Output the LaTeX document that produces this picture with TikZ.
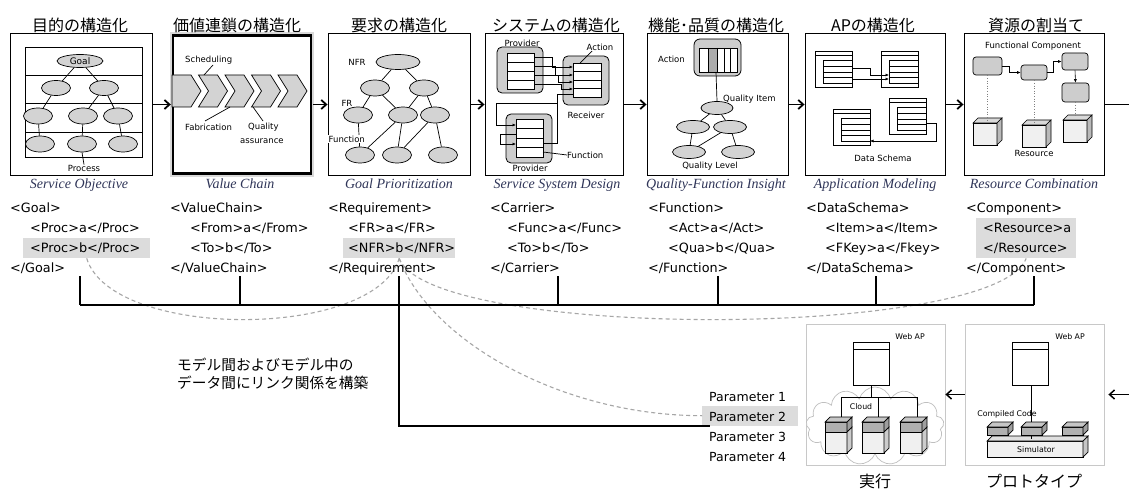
\documentclass[tikz,border=0pt]{standalone}
\usepackage{fontspec}
\usetikzlibrary{arrows.meta,shapes.geometric,shapes.symbols}
\newfontfamily\jpfont{Noto Sans CJK JP}
\newfontfamily\dvfont{DejaVu Sans}
\newfontfamily\tmfont{Liberation Serif}
\definecolor{subcol}{HTML}{2F3558}
\definecolor{ovfill}{HTML}{D3D3D3}
\definecolor{hlfill}{HTML}{DCDCDC}
\definecolor{grpfill}{HTML}{CDCDCD}
\definecolor{linkcol}{HTML}{A6A6A6}
\definecolor{framecol}{HTML}{C8C8C8}

\tikzset{
  panel/.style={draw, line width=0.9pt, minimum width=142pt, minimum height=142pt, inner sep=0pt},
  subpanel/.style={draw=framecol, line width=0.8pt, minimum width=139pt, minimum height=141pt, inner sep=0pt},
  ttl/.style={font=\jpfont\fontsize{16}{18}\selectfont, inner sep=0pt},
  jptext/.style={font=\jpfont\fontsize{14.7}{18}\selectfont, inner sep=0pt, anchor=west},
  subttl/.style={font=\tmfont\itshape\fontsize{14}{16}\selectfont, text=subcol, inner sep=0pt, anchor=base},
  code/.style={font=\dvfont\fontsize{12.8}{15}\selectfont, inner sep=0pt, anchor=base west},
  param/.style={font=\dvfont\fontsize{12.5}{15}\selectfont, inner sep=0pt, anchor=base west},
  lbl/.style={font=\dvfont\fontsize{8.5}{10}\selectfont, inner sep=0pt},
  tinylbl/.style={font=\dvfont\fontsize{7.8}{9}\selectfont, inner sep=0pt},
  ov/.style={ellipse, draw, line width=0.7pt, fill=ovfill, minimum width=29pt, minimum height=15pt, inner sep=0pt},
  edge/.style={line width=0.7pt},
  grid/.style={line width=0.7pt},
  grp/.style={draw, line width=0.8pt, fill=grpfill, rounded corners=5pt},
  tbl/.style={draw, line width=0.7pt, fill=white},
  sarr/.style={line width=0.6pt, -{Latex[length=3.5pt,width=3pt]}},
  flow/.style={line width=1.8pt, -{Straight Barb[length=5pt,width=9pt]}},
  back/.style={line width=1.5pt, -{Straight Barb[length=5pt,width=9pt]}},
  link/.style={draw=linkcol, dash pattern=on 4pt off 3pt, line width=1.1pt},
  bus/.style={line width=1.1pt},
  hl/.style={fill=hlfill, draw=none, inner sep=0pt, anchor=north west},
  dots/.style={draw=gray, dotted, line width=0.6pt},
  fc/.style={draw, line width=0.7pt, fill=grpfill, rounded corners=3pt, inner sep=0pt},
  rescube/.pic={
    \draw[line width=0.6pt, fill=gray!12] (0,0) rectangle (24,22);
    \draw[line width=0.6pt, fill=gray!30] (0,0) -- (5,-5) -- (29,-5) -- (24,0) -- cycle;
    \draw[line width=0.6pt, fill=gray!55] (24,0) -- (29,-5) -- (29,17) -- (24,22) -- cycle;
  },
  srvbox/.pic={
    \draw[line width=0.7pt, fill=gray!12] (0,0) rectangle (22,31);
    \draw[line width=0.7pt, fill=gray!62] (0,0) rectangle (22,10);
    \draw[line width=0.7pt, fill=gray!45] (0,0) -- (5,-5) -- (27,-5) -- (22,0) -- cycle;
    \draw[line width=0.7pt, fill=gray!75] (22,0) -- (27,-5) -- (27,5) -- (22,10) -- cycle;
    \draw[line width=0.7pt, fill=gray!40] (22,10) -- (27,5) -- (27,26) -- (22,31) -- cycle;
  },
  codeblk/.pic={
    \draw[line width=0.7pt, fill=gray!62] (0,0) rectangle (21,8);
    \draw[line width=0.7pt, fill=gray!45] (0,0) -- (5,-5) -- (26,-5) -- (21,0) -- cycle;
    \draw[line width=0.7pt, fill=gray!75] (21,0) -- (26,-5) -- (26,3) -- (21,8) -- cycle;
  },
  webwin/.pic={
    \draw[line width=0.8pt, fill=white] (0,0) rectangle (36,43);
    \draw[line width=0.8pt] (0,7) -- (36,7);
  },
  schematbl/.pic={
    \draw[tbl] (0,0) rectangle (37,36);
    \draw[grid] (0,4) -- (37,4);
    \draw[grid] (8,9) rectangle (37,32);
    \foreach \yy in {15,21,26.5} \draw[grid] (8,\yy) -- (37,\yy);
  },
}

\begin{document}
\begin{tikzpicture}[x=1pt,y=-1pt]
\useasboundingbox (0,0) rectangle (1129,494);
\fill[white] (0,0) rectangle (1129,494);

% ---------- frames of the seven models ----------
\node[panel] (p1) at (81,104.5) {};
\node[panel, minimum width=139pt, minimum height=139pt, line width=3.4pt] (p2) at (242,104.5) {};
\draw[line width=1.9pt, gray!30] (p2.south west) rectangle (p2.north east);
\node[panel] (p3) at (399,104.5) {};
\node[panel, minimum width=138pt] (p4) at (554,104.5) {};
\node[panel, minimum width=141pt] (p5) at (717.5,104.5) {};
\node[panel, minimum width=140pt] (p6) at (875,104.5) {};
\node[panel, minimum width=140pt] (p7) at (1034,104.5) {};

% ---------- headings ----------
\node[ttl] (h1) at (80,25) {目的の構造化};
\node[ttl] (h2) at (237,25) {価値連鎖の構造化};
\node[ttl] (h3) at (399,25) {要求の構造化};
\node[ttl] (h4) at (556,25) {システムの構造化};
\node[ttl] (h5) at (716,25) {機能･品質の構造化};
\node[ttl] (h6) at (873,25) {APの構造化};
\node[ttl] (h7) at (1036,25) {資源の割当て};

\node[subttl] (s1) at (79,189) {Service Objective};
\node[subttl] (s2) at (240,189) {Value Chain};
\node[subttl] (s3) at (399,189) {Goal Prioritization};
\node[subttl] (s4) at (557,189) {Service System Design};
\node[subttl] (s5) at (716,189) {Quality-Function Insight};
\node[subttl] (s6) at (875,189) {Application Modeling};
\node[subttl] (s7) at (1034,189) {Resource Combination};

% ---------- flow between the models ----------
\coordinate (rout) at (1129,104.5);
\draw[flow] (p1.east) -- (p2.west);
\draw[flow] (p2.east) -- (p3.west);
\draw[flow] (p3.east) -- (p4.west);
\draw[flow] (p4.east) -- (p5.west);
\draw[flow] (p5.east) -- (p6.west);
\draw[flow] (p6.east) -- (p7.west);
\draw[line width=1.8pt] (p7.east) -- (rout);

% ---------- 1: goal tree ----------
\draw[grid, fill=white] (25,47) rectangle (142,157);
\foreach \yy in {75,103,132} \draw[grid] (25,\yy) -- (142,\yy);
\node[ov, minimum width=46pt, minimum height=13pt, font=\dvfont\fontsize{9}{10}\selectfont] (g0) at (80,61) {Goal};
\node[ov] (a1) at (56,88) {};
\node[ov] (a2) at (104,88) {};
\node[ov, minimum height=16pt] (b1) at (38,116) {};
\node[ov, minimum height=16pt] (b2) at (83,116) {};
\node[ov, minimum height=16pt] (b3) at (118,116) {};
\node[ov, minimum height=16pt] (c1) at (40,144) {};
\node[ov, minimum height=16pt] (c2) at (82,144) {};
\node[ov, minimum height=16pt] (c3) at (123,144) {};
\draw[edge] (g0) -- (a1); \draw[edge] (g0) -- (a2);
\draw[edge] (a1) -- (b1); \draw[edge] (a2) -- (b2); \draw[edge] (a2) -- (b3);
\draw[edge] (b1) -- (c1); \draw[edge] (b2) -- (c2); \draw[edge] (b3) -- (c3);
\node[lbl] (proc) at (84,168) {Process};
\draw[edge] (c2.south) -- (proc.north);

% ---------- 2: value chain ----------
\foreach \i/\n in {0/0,1/10,2/10,3/10,4/10} {
  \pgfmathsetmacro\xl{172+26.5*\i}
  \draw[line width=0.7pt, fill=ovfill] (\xl,75) -- ++(19,0) -- ++(10,16) -- ++(-10,16) -- ++(-19,0) -- ++(\n,-16) -- cycle;
}
\node[lbl, anchor=west] (sch) at (185,60) {Scheduling};
\node[lbl, anchor=west] (fab) at (185,127) {Fabrication};
\node[lbl, anchor=west] (qa1) at (248,127) {Quality};
\node[lbl, anchor=west] (qa2) at (240,141) {assurance};
\draw[edge] (213,65) -- (204,75);
\draw[edge] (205,121) -- (230,107);
\draw[edge] (263,121) -- (253,107);

% ---------- 3: requirement tree ----------
\node[ov, minimum width=44pt] (n0) at (398,62) {};
\node[ov, minimum height=16pt] (m1) at (375,88) {};
\node[ov, minimum height=16pt] (m2) at (424,88) {};
\node[ov, minimum height=16pt] (k1) at (358,115) {};
\node[ov, minimum height=16pt] (k2) at (403,115) {};
\node[ov, minimum height=16pt] (k3) at (435,115) {};
\node[ov, minimum height=16pt] (j1) at (360,155) {};
\node[ov, minimum height=16pt] (j2) at (397,155) {};
\node[ov, minimum height=16pt] (j3) at (443,155) {};
\draw[edge] (n0) -- (m1); \draw[edge] (n0) -- (m2);
\draw[edge] (m1) -- (k1); \draw[edge] (m1) -- (k2);
\draw[edge] (m2) -- (k2); \draw[edge] (m2) -- (k3);
\draw[edge] (k1) -- (j1); \draw[edge] (k2) -- (j1); \draw[edge] (k2) -- (j2);
\draw[edge] (k3) -- (j2); \draw[edge] (k3) -- (j3);
\node[lbl] (nfr) at (357,62) {NFR};
\node[lbl] (fr) at (347,103) {FR};
\node[lbl, anchor=west, fill=white, inner sep=0.5pt] (fn3) at (328,139) {Function};

% ---------- 4: service system ----------
\draw[grp] (497,47) rectangle (543,93);
\draw[tbl] (507,53) rectangle (534,89);
\foreach \yy in {62,71,80} \draw[grid] (507,\yy) -- (534,\yy);
\draw[grp] (563,56) rectangle (609,105);
\draw[tbl] (573,63) rectangle (601,97);
\foreach \yy in {71.5,80,88.5} \draw[grid] (573,\yy) -- (601,\yy);
\draw[grp] (506,114) rectangle (552,163);
\draw[tbl] (516,119) rectangle (543,157);
\foreach \yy in {128.5,138,147.5} \draw[grid] (516,\yy) -- (543,\yy);
\draw[sarr] (534,57.5) -- (552,57.5) -- (552,67) -- (573,67);
\draw[sarr] (534,66.5) -- (555,66.5) -- (555,75) -- (573,75);
\draw[sarr] (534,75.5) -- (558,75.5) -- (558,82) -- (573,82);
\draw[sarr] (534,84.5) -- (561,84.5) -- (561,89) -- (573,89);
\draw[sarr] (573,94) -- (557,94) -- (557,103) -- (496,103) -- (496,125) -- (516,125);
\draw[line width=0.6pt] (543,143) -- (557,143) -- (557,103);
\draw[sarr] (516,134) -- (500,134) -- (500,144) -- (516,144);
\node[lbl] (prv1) at (522,43) {Provider};
\node[lbl] (act4) at (600,47) {Action};
\draw[edge] (592,51) -- (580,63);
\node[lbl] (rcv) at (586,115) {Receiver};
\node[lbl] (prv2) at (530,168) {Provider};
\node[lbl, anchor=west] (fn4) at (567,155) {Function};
\draw[edge] (543,152) -- (fn4.west);

% ---------- 5: quality and function ----------
\draw[grp, rounded corners=6pt] (694,39) rectangle (741,76);
\draw[tbl] (699,48) rectangle (737,72);
\fill[gray!65] (708,48) rectangle (717,72);
\foreach \xx in {708,717,724,730} \draw[grid] (\xx,48) -- (\xx,72);
\draw[grid] (699,48) rectangle (737,72);
\node[ov, minimum width=32pt, minimum height=13pt] (q0) at (717,108) {};
\node[ov, minimum width=33pt, minimum height=13pt] (r1) at (693,127) {};
\node[ov, minimum width=33pt, minimum height=13pt] (r2) at (730,127) {};
\node[ov, minimum width=33pt, minimum height=13pt] (u1) at (689,152) {};
\node[ov, minimum width=33pt, minimum height=13pt] (u2) at (738,152) {};
\draw[edge] (716,72) -- (q0.north);
\draw[edge] (q0) -- (r1); \draw[edge] (q0) -- (r2);
\draw[edge] (r1) -- (u1); \draw[edge] (r2) -- (u1); \draw[edge] (r2) -- (u2);
\node[lbl, anchor=west] (act5) at (658,59) {Action};
\node[lbl, anchor=west] (qi) at (723,99) {Quality Item};
\node[lbl] (ql) at (710,166) {Quality Level};

% ---------- 6: application model ----------
\pic at (815,51) {schematbl};
\pic at (881,51) {schematbl};
\pic at (833,109) {schematbl};
\pic at (889,98) {schematbl};
\draw[sarr] (852,68) -- (870,68) -- (870,75) -- (889,75);
\draw[sarr] (852,79) -- (889,79);
\draw[sarr] (926,123) -- (936,123) -- (936,141) -- (870,141);
\node[lbl] (ds) at (883,158) {Data Schema};

% ---------- 7: resources ----------
\node[lbl] (fcl) at (1033,46) {Functional Component};
\node[fc, minimum width=29pt, minimum height=18pt] (f1) at (987.5,66) {};
\node[fc, minimum width=26pt, minimum height=15pt] (f2) at (1034,72.5) {};
\node[fc, minimum width=26pt, minimum height=17pt] (f3) at (1075,61.5) {};
\node[fc, minimum width=27pt, minimum height=19pt] (f4) at (1075.5,92.5) {};
\draw[sarr] (f1.east) -- ++(7,0) |- (f2.west);
\draw[sarr] (f2.east) -- ++(6,0) |- (f3.west);
\draw[sarr] (f3.south) -- (f4.north);
\pic at (973,123) {rescube};
\pic at (1022,125) {rescube};
\pic at (1063,120) {rescube};
\coordinate (rc1) at (987.5,120);
\coordinate (rc2) at (1034,122);
\coordinate (rc3) at (1075.5,117);
\draw[dots] (f1.south) -- (rc1);
\draw[dots] (f2.south) -- (rc2);
\draw[dots] (f4.south) -- (rc3);
\node[lbl] (res) at (1034,153) {Resource};

% ---------- data of each model ----------
\node[hl, minimum width=127pt, minimum height=20pt] (hlproc) at (23,238) {};
\node[hl, minimum width=112pt, minimum height=20pt] (hlnfr) at (343,238) {};
\node[hl, minimum width=100pt, minimum height=40pt] (hlres) at (976,218) {};
\node[hl, minimum width=96pt, minimum height=20pt] (hlpar) at (702,405.5) {};

% links between data items
\draw[link] (hlproc.south) .. controls (112,340) and (375,340) .. (hlnfr.south);
\draw[link] (hlnfr.south) .. controls (430,340) and (995,340) .. (hlres.south);
\draw[link] (hlnfr.south) .. controls (430,340) and (560,415.5) .. (hlpar.west);

\node[code] (d1a) at (10,212.7) {<Goal>};
\node[code] (d1b) at (30,232.7) {<Proc>a</Proc>};
\node[code] (d1c) at (30,252.7) {<Proc>b</Proc>};
\node[code] (d1d) at (10,272.7) {</Goal>};

\node[code] (d2a) at (170,212.7) {<ValueChain>};
\node[code] (d2b) at (190,232.7) {<From>a</From>};
\node[code] (d2c) at (190,252.7) {<To>b</To>};
\node[code] (d2d) at (170,272.7) {</ValueChain>};

\node[code] (d3a) at (328,212.7) {<Requirement>};
\node[code] (d3b) at (348,232.7) {<FR>a</FR>};
\node[code] (d3c) at (348,252.7) {<NFR>b</NFR>};
\node[code] (d3d) at (328,272.7) {</Requirement>};

\node[code] (d4a) at (490,212.7) {<Carrier>};
\node[code] (d4b) at (507,232.7) {<Func>a</Func>};
\node[code] (d4c) at (507,252.7) {<To>b</To>};
\node[code] (d4d) at (490,272.7) {</Carrier>};

\node[code] (d5a) at (648,212.7) {<Function>};
\node[code] (d5b) at (668,232.7) {<Act>a</Act>};
\node[code] (d5c) at (668,252.7) {<Qua>b</Qua>};
\node[code] (d5d) at (648,272.7) {</Function>};

\node[code] (d6a) at (806,212.7) {<DataSchema>};
\node[code] (d6b) at (825,232.7) {<Item>a</Item>};
\node[code] (d6c) at (825,252.7) {<FKey>a</Fkey>};
\node[code] (d6d) at (806,272.7) {</DataSchema>};

\node[code] (d7a) at (966,212.7) {<Component>};
\node[code] (d7b) at (983,232.7) {<Resource>a};
\node[code] (d7c) at (983,252.7) {</Resource>};
\node[code] (d7d) at (966,272.7) {</Component>};

% ---------- collecting bus ----------
\foreach \xx [count=\k] in {80,240,399,558,718,876,1034} {
  \coordinate (t\k) at (\xx,276);
  \coordinate (b\k) at (\xx,305);
  \draw[bus] (t\k) -- (b\k);
}
\draw[bus] (b1) -- (b7);
\coordinate (pe) at (710,426);
\draw[bus] (t3) |- (pe);

\node[jptext] (note1) at (177,365) {モデル間およびモデル中の};
\node[jptext] (note2) at (177,383) {データ間にリンク関係を構築};

\node[param] (pm1) at (709,401.5) {Parameter 1};
\node[param] (pm2) at (709,421.5) {Parameter 2};
\node[param] (pm3) at (709,441.5) {Parameter 3};
\node[param] (pm4) at (709,461.5) {Parameter 4};

% ---------- execution and prototype ----------
\node[subpanel] (pb1) at (875.5,394.5) {};
\node[subpanel] (pb2) at (1034.5,394.5) {};
\node[ttl] (lb1) at (875,481) {実行};
\node[ttl] (lb2) at (1034,481) {プロトタイプ};
\coordinate (rin) at (1129,394.5);
\draw[back] (pb2.west) -- (pb1.east);
\draw[back, shorten >=4pt] (rin) -- (pb2.east);

% cloud execution
\node[cloud, cloud puffs=13, cloud ignores aspect, draw=gray!50, line width=0.7pt, fill=white,
      minimum width=138pt, minimum height=78pt, inner sep=0pt] (cloud) at (875,426) {};
\pic at (853,342) {webwin};
\node[tinylbl] (wa1) at (910,337) {Web AP};
\coordinate (w1) at (871,385);
\coordinate (bus1) at (871,397);
\draw[line width=0.9pt] (w1) -- (bus1);
\draw[line width=0.9pt] (841,418) -- (841,397) -- (917,397) -- (917,418);
\draw[line width=0.9pt] (878,397) -- (878,418);
\node[tinylbl] (cl) at (861,407) {Cloud};
\pic at (825,422) {srvbox};
\pic at (862,422) {srvbox};
\pic at (900,422) {srvbox};

% prototype on simulator
\pic at (1012,342) {webwin};
\node[tinylbl] (wa2) at (1070,337) {Web AP};
\draw[line width=0.7pt, fill=gray!12] (987,441) rectangle (1083,457);
\draw[line width=0.7pt, fill=gray!25] (987,441) -- (992,436) -- (1088,436) -- (1083,441) -- cycle;
\draw[line width=0.7pt, fill=gray!45] (1083,441) -- (1088,436) -- (1088,452) -- (1083,457) -- cycle;
\node[tinylbl] (sim) at (1036,449.5) {Simulator};
\coordinate (w2) at (1031,385);
\coordinate (sim2) at (1031,438.5);
\draw[line width=0.9pt] (w2) -- (sim2);
\pic at (987,427) {codeblk};
\pic at (1021,427) {codeblk};
\pic at (1062,427) {codeblk};
\node[tinylbl] (cc) at (1007,414) {Compiled Code};

\end{tikzpicture}
\end{document}
